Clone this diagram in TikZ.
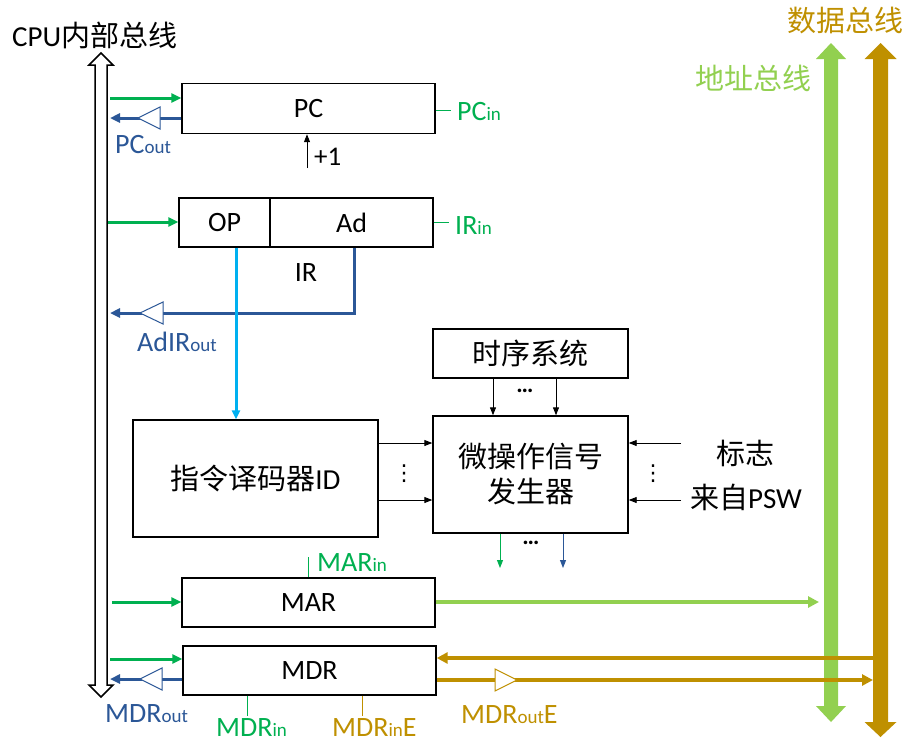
\documentclass[tikz,border=0pt]{standalone}
\usepackage{fontspec}
\setmainfont{Carlito}
\newfontfamily\cjk{Noto Sans CJK SC}
\newfontfamily\djv{DejaVu Sans}
\usetikzlibrary{arrows.meta}
\definecolor{grn}{HTML}{00B050}
\definecolor{dblue}{HTML}{2B5797}
\definecolor{lblue}{HTML}{00B0F0}
\definecolor{lgrn}{HTML}{92D050}
\definecolor{gold}{HTML}{BF9000}
\newcommand\sbs[1]{{\fontsize{19}{19}\selectfont #1}}
\begin{document}
\begin{tikzpicture}[x=1pt,y=-1pt,
  box/.style={draw, line width=1.4pt, inner sep=0pt, font=\fontsize{28}{32}\selectfont, fill=white},
  cbox/.style={box, font=\fontsize{29}{35}\selectfont\cjk, align=center},
  garrow/.style={draw=grn, line width=3pt, -{Triangle[length=10pt,width=9pt]}},
  barrow/.style={draw=dblue, line width=3pt, -{Triangle[length=10pt,width=9pt]}},
  tarrow/.style={draw=black, line width=0.9pt, -{Triangle[length=8pt,width=6pt]}},
  buf/.style={line width=1pt, fill=white},
  lab/.style={font=\fontsize{28}{30}\selectfont, inner sep=0pt, anchor=west},
  clab/.style={font=\fontsize{29}{32}\selectfont\cjk, inner sep=0pt},
  vd/.style={inner sep=0pt, font=\fontsize{22}{22}\selectfont\djv},
  hd/.style={inner sep=0pt, font=\fontsize{24}{24}\selectfont\bfseries},
]
\fill[white] (0,0) rectangle (924,748);
\useasboundingbox (0,0) rectangle (924,748);

% ---- buses ----
\draw[line width=1.5pt, fill=white] (101,53) -- (113,65) -- (107,65) -- (107,685) -- (113,685) -- (101,697) -- (89,685) -- (95,685) -- (95,65) -- (89,65) -- cycle;
\fill[lgrn] (831,43) -- (846,59) -- (838,59) -- (838,706) -- (846,706) -- (831,722) -- (816,706) -- (824,706) -- (824,59) -- (816,59) -- cycle;
\fill[gold] (880.5,43) -- (896.5,59) -- (888,59) -- (888,722) -- (896.5,722) -- (880.5,737) -- (864.5,722) -- (873,722) -- (873,59) -- (864.5,59) -- cycle;

\node[inner sep=0pt, anchor=west, font=\fontsize{29}{32}\selectfont] (cpulab) at (12,35) {CPU{\cjk 内部总线}};
\node[clab, text=gold] (dblab) at (845,20) {数据总线};
\node[clab, text=lgrn] (ablab) at (753,78) {地址总线};

% ---- boxes ----
\node[box, minimum width=253pt, minimum height=50pt] (pc) at (308.5,108.5) {PC};
\node[box, minimum width=91pt, minimum height=49pt] (op) at (224.5,222.5) {OP};
\node[box, minimum width=163pt, minimum height=49pt] (ad) at (351.5,222.5) {Ad};
\node[inner sep=0pt, font=\fontsize{28}{32}\selectfont] (irlab) at (306,273) {IR};
\node[cbox, minimum width=195pt, minimum height=49pt] (tim) at (530.5,353.5) {时序系统};
\node[cbox, minimum width=195pt, minimum height=117pt] (mic) at (530.5,474.5) {微操作信号\\发生器};
\node[box, minimum width=245pt, minimum height=117pt, font=\fontsize{29}{32}\selectfont] (id) at (255.5,478.5) {{\cjk 指令译码器}ID};
\node[box, minimum width=253pt, minimum height=49pt] (mar) at (308.5,602.5) {MAR};
\node[box, minimum width=253pt, minimum height=49pt] (mdr) at (309.5,670.5) {MDR};

% ---- PC ----
\coordinate (b1) at (110,98);
\coordinate (b2) at (110,118);
\draw[garrow] (b1) -- (b1 -| pc.west);
\draw[barrow] (b2 -| pc.west) -- (b2);
\draw[dblue, buf] (160,107) -- (160,129) -- (138,118) -- cycle;
\node[lab, text=dblue] (pcout) at (115,145) {PC\sbs{out}};
\coordinate (pcin0) at (451,110);
\draw[grn, line width=0.8pt] (pcin0 -| pc.east) -- (pcin0);
\node[lab, text=grn] (pcin) at (457,112) {PC\sbs{in}};
\coordinate (p1) at (307,168);
\draw[tarrow] (p1) -- (p1 |- pc.south);
\node[inner sep=0pt, anchor=west, font=\fontsize{27}{28}\selectfont] (plus) at (314,157) {+1};

% ---- IR ----
\coordinate (b3) at (108,222);
\draw[garrow] (b3) -- (b3 -| op.west);
\coordinate (irin0) at (449,222);
\draw[grn, line width=0.8pt] (irin0 -| ad.east) -- (irin0);
\node[lab, text=grn] (irin) at (455,226) {IR\sbs{in}};
\coordinate (b4) at (110,313);
\draw[barrow] (ad.south -| 354,0) |- (b4);
\draw[dblue, buf] (163,302) -- (163,324) -- (140,313) -- cycle;
\node[lab, text=dblue] (adirout) at (137,342) {AdIR\sbs{out}};
\draw[draw=lblue, line width=3pt, -{Triangle[length=9pt,width=8pt]}] (op.south -| 236,0) -- (id.north -| 236,0);

% ---- control ----
\draw[tarrow] (tim.south -| 493,0) -- (mic.north -| 493,0);
\draw[tarrow] (tim.south -| 556,0) -- (mic.north -| 556,0);
\node[hd] (d1) at (525,391) {…};
\draw[tarrow] (id.east |- 0,443) -- (mic.west |- 0,443);
\draw[tarrow] (id.east |- 0,500) -- (mic.west |- 0,500);
\node[vd] (d2) at (404,474) {⋮};
\coordinate (f1) at (681,443);
\coordinate (f2) at (681,500);
\draw[tarrow] (f1) -- (f1 -| mic.east);
\draw[tarrow] (f2) -- (f2 -| mic.east);
\node[vd] (d3) at (653,474) {⋮};
\node[clab] (flag) at (745,453) {标志};
\node[inner sep=0pt, font=\fontsize{29}{32}\selectfont] (psw) at (746,497) {{\cjk 来自}PSW};
\coordinate (o1) at (500,568);
\coordinate (o2) at (563,568);
\draw[draw=grn, line width=0.9pt, -{Triangle[length=8pt,width=6pt]}] (o1 |- mic.south) -- (o1);
\draw[draw=dblue, line width=0.9pt, -{Triangle[length=8pt,width=6pt]}] (o2 |- mic.south) -- (o2);
\node[hd] (d4) at (531,543) {…};

% ---- MAR ----
\coordinate (b5) at (112,602);
\draw[garrow] (b5) -- (b5 -| mar.west);
\coordinate (marin0) at (308,557);
\draw[grn, line width=0.8pt] (marin0) -- (marin0 |- mar.north);
\node[lab, text=grn] (marin) at (317,563) {MAR\sbs{in}};
\coordinate (abus) at (819,602);
\draw[draw=lgrn, line width=4pt, -{Triangle[length=11pt,width=11pt]}] (abus -| mar.east) -- (abus);

% ---- MDR ----
\coordinate (b6) at (110,659);
\coordinate (b7) at (110,679);
\draw[garrow] (b6) -- (b6 -| mdr.west);
\draw[barrow] (b7 -| mdr.west) -- (b7);
\draw[dblue, buf] (162,668) -- (162,690) -- (140,679) -- cycle;
\node[lab, text=dblue] (mdrout) at (105,714) {MDR\sbs{out}};
\coordinate (mdrin0) at (247,716);
\draw[grn, line width=0.8pt] (mdrin0 |- mdr.south) -- (mdrin0);
\node[lab, text=grn] (mdrin) at (216,728) {MDR\sbs{in}};
\coordinate (mdrine0) at (362,716);
\draw[gold, line width=0.8pt] (mdrine0 |- mdr.south) -- (mdrine0);
\node[lab, text=gold] (mdrine) at (332,728) {MDR\sbs{in}E};
\coordinate (d1bus) at (874,658);
\coordinate (d2bus) at (873,680);
\draw[draw=gold, line width=4pt, -{Triangle[length=11pt,width=11pt]}] (d1bus) -- (d1bus -| mdr.east);
\draw[draw=gold, line width=4pt, -{Triangle[length=11pt,width=11pt]}] (d2bus -| mdr.east) -- (d2bus);
\draw[gold, buf] (495,669) -- (495,691) -- (517,680) -- cycle;
\node[lab, text=gold] (mdroute) at (461,715) {MDR\sbs{out}E};
\end{tikzpicture}
\end{document}
